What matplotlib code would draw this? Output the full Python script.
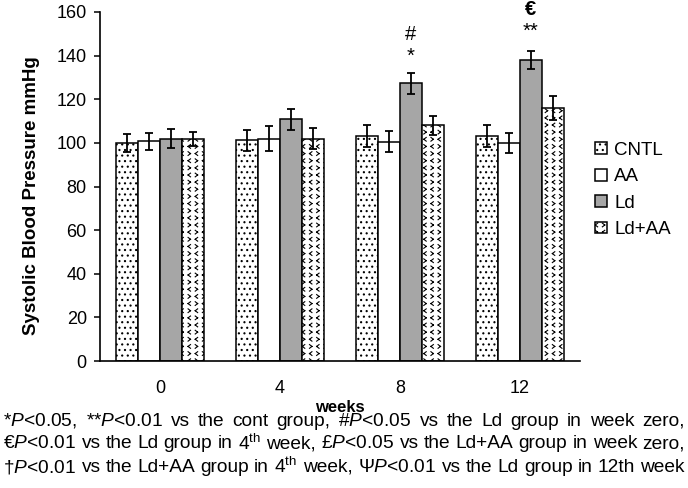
import numpy as np
import matplotlib
matplotlib.use('Agg')
import matplotlib.pyplot as plt
from matplotlib import hatch as mhatch
from matplotlib import font_manager
from matplotlib.path import Path

# ================= Data Section =================
weeks = ['0', '4', '8', '12']
groups = ['CNTL', 'AA', 'Ld', 'Ld+AA']

cntl_mean = [99.8, 101.2, 103.3, 103.3]
aa_mean = [100.7, 102.0, 100.6, 100.1]
ld_mean = [102.0, 110.8, 127.3, 138.0]
ldaa_mean = [101.8, 102.0, 108.0, 116.0]

cntl_err = [4.2, 4.8, 5.0, 5.0]
aa_err = [3.9, 5.8, 4.8, 4.6]
ld_err = [4.4, 4.9, 4.9, 4.2]
ldaa_err = [3.4, 4.7, 4.5, 5.7]

# significance marks over the Ld bars: (week index, y value, text, bold)
marks = [(2, 149.5, '#', False), (2, 139.8, '*', False),
         (3, 161.0, '€', True), (3, 151.0, '**', False)]

footnote = [
    '*$\\mathit{P}$<0.05, **$\\mathit{P}$<0.01 vs the cont group, #$\\mathit{P}$<0.05 vs the Ld group in week zero,',
    '€$\\mathit{P}$<0.01 vs the Ld group in 4$^{\\mathrm{th}}$ week, £$\\mathit{P}$<0.05 vs the Ld+AA group in week zero,',
    '†$\\mathit{P}$<0.01 vs the Ld+AA group in 4$^{\\mathrm{th}}$ week, Ψ$\\mathit{P}$<0.01 vs the Ld group in 12th week',
]


# ================= Chevron hatch for Ld+AA ('*' in hatch string) =================
class ChevronHatch(mhatch.HatchPatternBase):
    def __init__(self, hatch, density):
        self.num_rows = 14 if '*' in hatch else 0
        self.num_vertices = self.num_rows ** 2 * 4

    def set_vertices_and_codes(self, vertices, codes):
        step = 1.0 / self.num_rows
        k = 0
        for i in range(self.num_rows):
            for j in range(self.num_rows):
                cx = (j + 0.5) * step
                cy = (i + 0.5) * step
                d = 0.17 * step if (i + j) % 2 else -0.17 * step
                h = 0.26 * step
                vertices[k:k + 4] = [(cx + d, cy + h), (cx - d, cy),
                                     (cx - d, cy), (cx + d, cy - h)]
                codes[k:k + 4] = [Path.MOVETO, Path.LINETO, Path.MOVETO, Path.LINETO]
                k += 4


mhatch._hatch_types = [h for h in mhatch._hatch_types if h is not mhatch.Stars] + [ChevronHatch]

# ================= Style Configuration =================
plt.rcParams.update({
    'font.family': ['Liberation Sans', 'DejaVu Sans'],
    'mathtext.fontset': 'custom',
    'mathtext.rm': 'Liberation Sans',
    'mathtext.it': 'Liberation Sans:italic',
    'mathtext.bf': 'Liberation Sans:bold',
    'hatch.linewidth': 0.8,
    'axes.linewidth': 1.2,
})

installed = {f.name for f in font_manager.fontManager.ttflist}
note_family = ['Liberation Sans Narrow'] if 'Liberation Sans Narrow' in installed else ['Liberation Sans']
note_family += ['DejaVu Sans']

fig = plt.figure(figsize=(6.88, 4.88), dpi=100)
ax = fig.add_axes([100 / 688, 1 - 361 / 488, 480 / 688, 349 / 488])

x = np.arange(len(weeks))
w = 0.183
series = [
    (cntl_mean, cntl_err, 'white', '...'),
    (aa_mean, aa_err, 'white', ''),
    (ld_mean, ld_err, '#a6a6a6', ''),
    (ldaa_mean, ldaa_err, 'white', '*'),
]
for k, (mean, err, color, hatch) in enumerate(series):
    ax.bar(x + (k - 1.5) * w, mean, w, yerr=err, color=color, hatch=hatch,
           edgecolor='black', linewidth=1.1, label=groups[k],
           error_kw=dict(ecolor='black', elinewidth=1.3, capsize=3, capthick=1.3))

for wi, yv, txt, bold in marks:
    ax.text(x[wi] + 0.5 * w, yv, txt, ha='center', va='center', fontsize=14.5,
            fontweight='bold' if bold else 'normal', clip_on=False)

# ================= Axes =================
ax.set_xlim(-0.5, 3.5)
ax.set_ylim(0, 160)
ax.set_yticks(np.arange(0, 161, 20))
ax.set_xticks(x)
ax.set_xticklabels(weeks)
ax.tick_params(axis='x', length=0, labelsize=13, pad=14)
ax.tick_params(axis='y', length=4, width=1.1, labelsize=13, pad=5.5)
ax.spines['top'].set_visible(False)
ax.spines['right'].set_visible(False)
ax.set_xlabel('weeks', fontsize=12, fontweight='bold', labelpad=1.5)
ax.set_ylabel('Systolic Blood Pressure mmHg', fontsize=13.5, fontweight='bold',
              labelpad=12, y=0.473)

ax.legend(loc='center left', bbox_to_anchor=(586 / 688, 1 - 190 / 488),
          bbox_transform=fig.transFigure, frameon=False, fontsize=13.5, borderpad=0,
          handlelength=0.6, handleheight=0.6, handletextpad=0.4, labelspacing=0.5)

# ================= Justified footnote =================
renderer = fig.canvas.get_renderer()
x0, x1 = 3, 685
rows = []
for line, ypix in zip(footnote, [421, 444, 467]):
    words = line.split(' ')
    texts = [fig.text(0, 1 - ypix / 488, wd, fontsize=10, va='center', family=note_family)
             for wd in words]
    widths = [t.get_window_extent(renderer).width for t in texts]
    rows.append((texts, widths))

# one font size for all lines: widest line gets ordinary word spacing
space = 0.26 * 100 / 72  # space width per pt of font size, in pixels
size = min((x1 - x0) / (sum(wd) / 10 + (len(wd) - 1) * space) for _, wd in rows)
for texts, widths in rows:
    widths = [wd * size / 10 for wd in widths]
    gap = (x1 - x0 - sum(widths)) / (len(widths) - 1)
    pos = x0
    for t, wd in zip(texts, widths):
        t.set_fontsize(size)
        t.set_x(pos / 688)
        pos += wd + gap

fig.savefig('out.png', dpi=100)
